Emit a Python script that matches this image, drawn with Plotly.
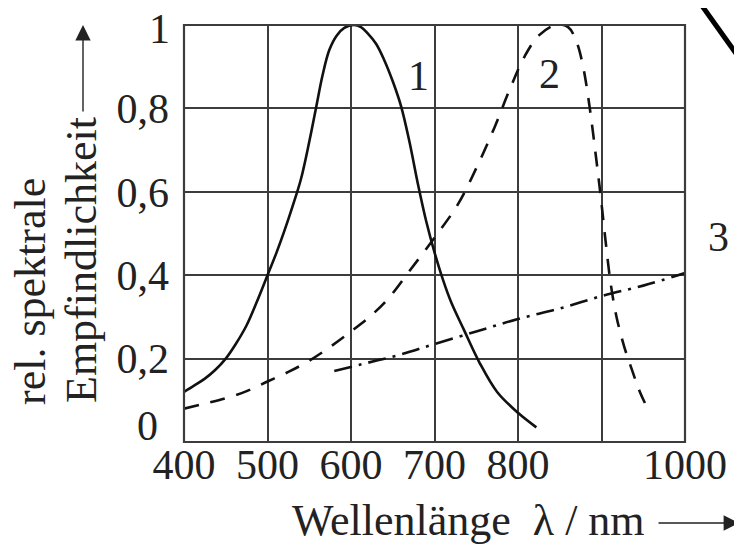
import plotly.graph_objects as go

# ---------------- data ----------------
x_tick_vals = [400, 500, 600, 700, 800, 900, 1000]
x_tick_text = ["400", "500", "600", "700", "800", "", "1000"]
y_tick_vals = [0, 0.2, 0.4, 0.6, 0.8, 1.0]
y_tick_text = ["", "0,2", "0,4", "0,6", "0,8", ""]
y_end_labels = ["0", "1"]

# curve 1 (solid)
c1_x = [400, 412, 425, 437, 450, 462, 475, 487, 500, 510, 520, 530, 540, 550, 558, 566, 574, 583, 592, 603,
        612, 620, 630, 640, 650, 660, 670, 680, 690, 700, 710, 720, 735, 754, 775, 800, 822]
c1_y = [0.12, 0.135, 0.152, 0.172, 0.2, 0.235, 0.28, 0.335, 0.4, 0.45, 0.505, 0.565, 0.63, 0.72, 0.8, 0.88, 0.94, 0.975, 0.993, 1.0,
        0.995, 0.98, 0.955, 0.915, 0.865, 0.805, 0.72, 0.62, 0.53, 0.455, 0.39, 0.335, 0.27, 0.19, 0.12, 0.07, 0.035]

# curve 2 (dashed)
c2_x = [400, 425, 450, 475, 500, 525, 550, 575, 600, 625, 645, 670, 700, 728, 752, 772, 790, 808, 825, 845,
        860, 870, 878, 886, 893, 899, 905, 911, 918, 927, 937, 946, 956]
c2_y = [0.08, 0.092, 0.105, 0.122, 0.145, 0.168, 0.195, 0.228, 0.265, 0.305, 0.345, 0.41, 0.49, 0.57, 0.665, 0.755, 0.845, 0.925, 0.975, 1.0,
        0.995, 0.96, 0.9, 0.8, 0.69, 0.59, 0.48, 0.38, 0.3, 0.23, 0.17, 0.12, 0.077]

# curve 3 (dash-dot)
c3_x = [580, 620, 660, 700, 750, 800, 850, 900, 950, 1000]
c3_y = [0.17, 0.19, 0.21, 0.235, 0.265, 0.295, 0.32, 0.35, 0.375, 0.405]

curve_labels = ["1", "2", "3"]
curve_label_x = [681, 838, 1040]
curve_label_y = [0.878, 0.882, 0.492]

x_title = "Wellenlänge\u00a0\u00a0λ\u00a0/\u00a0nm"
y_title_1 = "rel. spektrale"
y_title_2 = "Empfindlichkeit"

X_RANGE = [400, 1000]
Y_RANGE = [0, 1]

# ---------------- layout geometry ----------------
# the page body adds an 8px offset, so the figure is 8px smaller and margins shifted
OFF = 8
W, H = 742 - OFF, 546 - OFF
PL, PR, PT, PB = 184, 685, 25, 442          # plot area in page pixels
L, T = PL - OFF, PT - OFF
R = W - (PR - OFF)
B = H - (PB - OFF)
PW, PH = PR - PL, PB - PT
FONT = "Liberation Serif"
GRID = "#3c3c3c"
TXT = "#222"


def px(xp):
    return (xp - PL) / PW


def py(yp):
    return (PB - yp) / PH


fig = go.Figure()
fig.add_trace(go.Scatter(x=c1_x, y=c1_y, mode="lines", line=dict(color="#111", width=2.6, shape="spline"),
                         cliponaxis=False, showlegend=False))
fig.add_trace(go.Scatter(x=c2_x, y=c2_y, mode="lines",
                         line=dict(color="#111", width=2.6, shape="spline", dash="15px,12px"),
                         cliponaxis=False, showlegend=False))
fig.add_trace(go.Scatter(x=c3_x, y=c3_y, mode="lines",
                         line=dict(color="#111", width=2.6, shape="spline", dash="18px,7px,3px,7px"),
                         cliponaxis=False, showlegend=False))

annotations = []
for t, xv, yv in zip(curve_labels, curve_label_x, curve_label_y):
    # paper coordinates so that labels outside the axis range (label 3) are still drawn
    xpap = (xv - X_RANGE[0]) / (X_RANGE[1] - X_RANGE[0])
    ypap = (yv - Y_RANGE[0]) / (Y_RANGE[1] - Y_RANGE[0])
    annotations.append(dict(x=xpap, y=ypap, xref="paper", yref="paper", text=t, showarrow=False,
                            xanchor="center", yanchor="middle",
                            font=dict(family=FONT, size=42, color=TXT)))

# "0" and "1" tick labels (the "0" sits slightly off the axis in the original)
annotations.append(dict(x=px(160), y=py(426), xref="paper", yref="paper", text=y_end_labels[0], showarrow=False,
                        xanchor="right", yanchor="middle", font=dict(family=FONT, size=42, color=TXT)))
annotations.append(dict(x=px(172), y=py(29), xref="paper", yref="paper", text=y_end_labels[1], showarrow=False,
                        xanchor="right", yanchor="middle", font=dict(family=FONT, size=42, color=TXT)))

# y-axis title, two rotated lines
annotations.append(dict(x=px(30), y=py(292), xref="paper", yref="paper", text=y_title_1, showarrow=False,
                        textangle=-90, xanchor="center", yanchor="middle",
                        font=dict(family=FONT, size=44, color=TXT)))
annotations.append(dict(x=px(81), y=py(260), xref="paper", yref="paper", text=y_title_2, showarrow=False,
                        textangle=-90, xanchor="center", yanchor="middle",
                        font=dict(family=FONT, size=44, color=TXT)))
# y arrow
annotations.append(dict(x=px(83), y=py(25), xref="paper", yref="paper", text="", showarrow=True,
                        ax=0, ay=88, arrowhead=2, arrowsize=2.2, arrowwidth=1.4, arrowcolor=TXT))

# x-axis title
annotations.append(dict(x=px(290), y=py(520), xref="paper", yref="paper", text=x_title, showarrow=False,
                        xanchor="left", yanchor="middle", font=dict(family=FONT, size=44, color=TXT)))
# x arrow
annotations.append(dict(x=px(739), y=py(523), xref="paper", yref="paper", text="", showarrow=True,
                        ax=-82, ay=0, arrowhead=2, arrowsize=2.2, arrowwidth=1.4, arrowcolor=TXT))

shapes = [
    # frame
    dict(type="rect", xref="paper", yref="paper", x0=0, y0=0, x1=1, y1=1,
         line=dict(color=GRID, width=2.2)),
    # diagonal scan artefact at the top right
    dict(type="line", xref="paper", yref="paper", x0=px(690), y0=py(-11), x1=px(750), y1=py(73),
         line=dict(color="#000", width=5)),
]

fig.update_layout(
    width=W, height=H,
    margin=dict(l=L, r=R, t=T, b=B, autoexpand=False),
    paper_bgcolor="white", plot_bgcolor="white",
    showlegend=False,
    annotations=annotations,
    shapes=shapes,
    xaxis=dict(range=X_RANGE, tickvals=x_tick_vals, ticktext=x_tick_text, automargin=False,
               showgrid=True, gridcolor=GRID, gridwidth=2.2, zeroline=False, showline=False,
               ticks="", ticklabelstandoff=-6, ticklabeloverflow="allow",
               tickfont=dict(family=FONT, size=42, color=TXT)),
    yaxis=dict(range=Y_RANGE, tickvals=y_tick_vals, ticktext=y_tick_text, automargin=False,
               showgrid=True, gridcolor=GRID, gridwidth=2.2, zeroline=False, showline=False,
               ticks="", ticklabelstandoff=14, ticklabeloverflow="allow",
               tickfont=dict(family=FONT, size=42, color=TXT)),
    font=dict(family=FONT),
)

fig.write_html("out.html")
